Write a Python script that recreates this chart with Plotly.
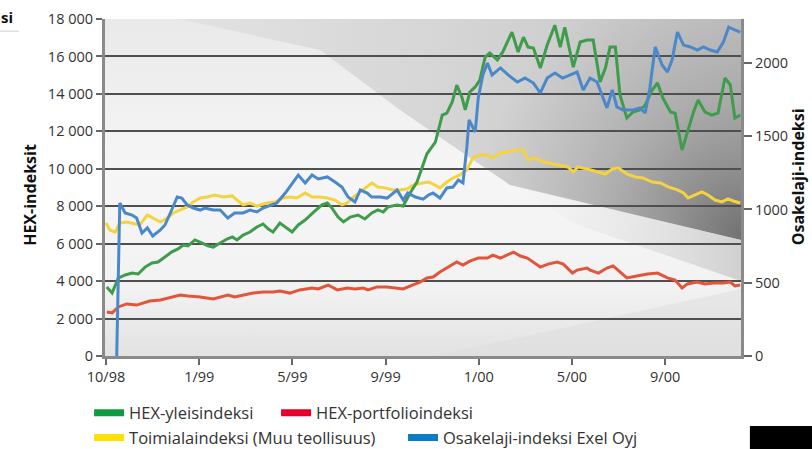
import base64
import plotly.graph_objects as go

# x positions are days from the first tick (ticks are evenly spaced in the source)
tick_days = [0, 121.7, 243.3, 365, 486.7, 608.3, 730]
tick_labels = ["10/98", "1/99", "5/99", "9/99", "1/00", "5/00", "9/00"]
left_ticks = [0, 2000, 4000, 6000, 8000, 10000, 12000, 14000, 16000, 18000]
right_ticks = [0, 500, 1000, 1500, 2000]

hex_yleis_x = [1,8,16,25,34,42,51,60,68,77,86,94,101,107,116,125,133,140,149,158,
               165,171,179,188,197,205,212,218,227,236,243,251,260,270,282,289,295,303,310,319,
               329,338,347,355,362,368,380,388,397,406,413,419,430,439,445,452,458,465,469,475,
               482,488,495,501,511,518,530,538,545,551,558,567,576,586,593,599,610,619,628,636,
               645,652,658,665,671,680,688,697,704,713,720,727,737,743,752,759,767,773,782,791,
               799,808,815,821,828]
hex_yleis = [3690,3370,4160,4330,4430,4380,4750,4970,5020,5290,5560,5720,5930,5880,6200,6040,5880,5820,6040,6250,
             6360,6200,6460,6620,6890,7050,6780,6620,7100,6840,6620,7000,7260,7640,8070,8170,7900,7420,7160,7420,
             7530,7320,7640,7800,7690,7960,8070,8010,8710,9290,10100,10800,11430,12870,12970,13570,14470,13780,13140,14100,
             14370,14740,15970,16180,15810,16240,17300,16240,17030,16500,16450,15380,16610,17670,16500,17560,15430,16770,16880,16880,
             14640,15380,16500,16500,13940,12710,13030,13140,13400,14210,14580,13780,13030,12970,11000,11960,13030,13670,13030,12870,
             12970,14850,14480,12710,12870]

hex_portf_x = [1,8,16,27,40,48,57,71,81,97,107,123,140,151,159,168,179,192,205,218,
               227,240,253,269,277,290,302,315,325,336,342,354,367,377,388,400,410,419,427,436,
               445,458,466,475,486,498,505,515,532,541,550,558,567,577,589,597,609,615,628,632,
               643,654,662,671,680,693,707,720,733,743,752,759,772,782,793,806,815,821,828]
hex_portf = [2350,2300,2620,2780,2720,2830,2940,2990,3100,3260,3200,3150,3050,3150,3260,3150,3260,3360,3420,3420,
             3470,3360,3530,3630,3580,3790,3530,3630,3580,3630,3530,3690,3690,3630,3580,3790,3950,4170,4220,4490,
             4700,5020,4860,5070,5230,5230,5390,5230,5550,5340,5230,5020,4750,4910,5020,4910,4430,4590,4700,4590,
             4430,4700,4810,4490,4170,4270,4380,4430,4170,4060,3630,3850,3950,3850,3900,3900,3950,3740,3790]

toimiala_x = [0,5,12,18,27,35,44,54,61,71,80,88,97,106,114,123,132,142,153,165,
              171,179,188,197,210,221,231,240,249,260,269,279,289,299,308,315,323,332,341,347,
              355,364,375,384,393,401,413,421,427,436,445,453,462,471,479,488,498,505,515,525,
              537,545,551,560,571,584,593,603,610,616,628,643,652,661,669,680,691,701,713,724,
              734,746,754,760,769,778,786,795,804,812,819,828]
toimiala = [7100,6730,6620,7100,7160,7100,7000,7530,7370,7160,7370,7640,7800,7960,8230,8440,8490,8600,8490,8550,
            8330,8070,8170,8010,8170,8230,8440,8490,8440,8710,8490,8490,8440,8330,8070,8170,8490,8760,9030,9240,
            9030,8980,8870,8870,8920,9130,9240,9290,9180,8980,9290,9510,9670,9940,10580,10740,10740,10580,10840,10900,
            11000,11000,10470,10580,10360,10260,10200,10100,9830,10100,9990,9830,9720,9990,10040,9720,9560,9510,9290,9240,
            9030,8870,8710,8440,8600,8760,8600,8330,8230,8390,8280,8170]

exel_x = [14,18,25,34,40,47,54,61,71,77,84,93,99,106,114,123,129,140,149,159,
          168,179,188,197,205,212,223,234,243,251,260,269,277,289,299,308,316,325,332,341,
          347,358,367,380,388,394,404,414,421,427,436,445,453,460,466,471,474,482,486,492,
          498,504,515,525,537,547,558,567,576,586,596,606,615,623,632,641,648,654,661,667,
          675,688,697,704,710,717,726,733,739,746,754,763,772,780,789,798,806,813,821,828]
exel = [0,1044,976,962,942,839,874,819,860,894,976,1085,1078,1031,1010,996,1010,996,996,942,
        976,976,996,983,1010,1024,1044,1112,1181,1235,1181,1235,1208,1222,1188,1153,1085,1051,1133,1112,
        1085,1085,1078,1133,1065,1112,1085,1071,1099,1112,1078,1147,1153,1201,1181,1420,1611,1529,1761,1918,
        2000,1918,1966,1918,1870,1897,1863,1795,1897,1931,1897,1918,1938,1816,1897,1870,1768,1693,1816,1700,
        1679,1679,1693,1659,1829,2109,1986,1938,2020,2211,2122,2109,2088,2109,2088,2075,2143,2245,2225,2211]

names = ["HEX-yleisindeksi", "HEX-portfolioindeksi",
         "Toimialaindeksi (Muu teollisuus)", "Osakelaji-indeksi Exel Oyj"]
line_colors = ["#3f9c4c", "#e2553a", "#f4d340", "#4b88c9"]
legend_colors = ["#0f9a3f", "#e4002b", "#ffe000", "#0a7cc6"]

FONT = "Open Sans"
fig = go.Figure()

fig.add_trace(go.Scatter(x=toimiala_x, y=toimiala, mode="lines", showlegend=False,
                         line=dict(color=line_colors[2], width=3), name=names[2]))
fig.add_trace(go.Scatter(x=hex_portf_x, y=hex_portf, mode="lines", showlegend=False,
                         line=dict(color=line_colors[1], width=3), name=names[1]))
fig.add_trace(go.Scatter(x=exel_x, y=exel, mode="lines", showlegend=False, yaxis="y2",
                         line=dict(color=line_colors[3], width=3), name=names[3]))
fig.add_trace(go.Scatter(x=hex_yleis_x, y=hex_yleis, mode="lines", showlegend=False,
                         line=dict(color=line_colors[0], width=3), name=names[0]))

# legend entries (thick swatches like the source), one legend box per entry
legend_ids = ["legend", "legend2", "legend3", "legend4"]
for nm, col, lg in zip(names, legend_colors, legend_ids):
    fig.add_trace(go.Scatter(x=[None], y=[None], mode="lines", name=nm,
                             line=dict(color=col, width=7), legend=lg))

# decorative gradient backdrop of the plot area (pure styling)
svg = """<svg xmlns="http://www.w3.org/2000/svg" width="636" height="337" viewBox="0 0 636 337">
<defs>
<linearGradient id="bg" x1="0" y1="0" x2="0" y2="1">
 <stop offset="0" stop-color="#e9e9e9"/><stop offset="0.45" stop-color="#f6f6f6"/>
 <stop offset="0.8" stop-color="#f2f2f2"/><stop offset="1" stop-color="#e2e2e2"/>
</linearGradient>
<linearGradient id="sheet" x1="0" y1="0" x2="1" y2="0">
 <stop offset="0" stop-color="#e2e2e2"/><stop offset="0.45" stop-color="#d6d6d6"/>
 <stop offset="1" stop-color="#c4c4c4"/>
</linearGradient>
<radialGradient id="dark" cx="636" cy="215" r="270" gradientUnits="userSpaceOnUse">
 <stop offset="0" stop-color="#646464" stop-opacity="0.85"/>
 <stop offset="0.5" stop-color="#787878" stop-opacity="0.35"/>
 <stop offset="1" stop-color="#8a8a8a" stop-opacity="0"/>
</radialGradient>
<linearGradient id="low" x1="0" y1="0" x2="1" y2="0">
 <stop offset="0" stop-color="#e6e6e6" stop-opacity="0"/>
 <stop offset="1" stop-color="#c8c8c8" stop-opacity="0.8"/>
</linearGradient>
</defs>
<rect width="636" height="337" fill="url(#bg)"/>
<path d="M75,0 L636,0 L636,221 L405,166 L295,91 L215,31 Z" fill="url(#sheet)"/>
<path d="M75,0 L636,0 L636,221 L405,166 L295,91 L215,31 Z" fill="url(#dark)"/>
<path d="M405,166 L636,221 L636,262 L470,205 Z" fill="url(#low)"/>
<path d="M330,337 L636,270 L636,337 Z" fill="#dcdcdc" fill-opacity="0.45"/>
</svg>"""
svg_uri = "data:image/svg+xml;base64," + base64.b64encode(svg.encode()).decode()

shapes = [
    dict(type="line", xref="paper", yref="paper", x0=-0.166, x1=-0.135, y0=0.964, y1=0.964,
         line=dict(color="#d0d0d0", width=1)),
    dict(type="rect", xref="paper", yref="paper", x0=1.014, x1=1.12, y0=-0.3, y1=-0.208,
         fillcolor="black", line=dict(width=0)),
]

annotations = [
    dict(text="<b>HEX-indeksit</b>", xref="paper", yref="paper", x=-0.118, y=0.478,
         xanchor="center", yanchor="middle",
         textangle=-90, showarrow=False, font=dict(family=FONT, size=16, color="#111")),
    dict(text="<b>Osakelaji-indeksi</b>", xref="paper", yref="paper", x=1.0895, y=0.533,
         xanchor="center", yanchor="middle",
         textangle=-90, showarrow=False, font=dict(family=FONT, size=16, color="#111")),
    dict(text="<b>si</b>", xref="paper", yref="paper", x=-0.166, y=1.005, xanchor="left",
         yanchor="middle", showarrow=False, font=dict(family=FONT, size=15, color="#111")),
]

legend_font = dict(family=FONT, size=16.5, color="#333")
def legend_box(x, y):
    return dict(orientation="h", x=x, y=y, xanchor="left", yanchor="middle",
                bgcolor="rgba(0,0,0,0)", font=legend_font)

tickfont = dict(family=FONT, size=14.5, color="#333")
fig.update_layout(
    width=812, height=449,
    margin=dict(l=105, r=71, t=19, b=93, autoexpand=False),
    paper_bgcolor="white", plot_bgcolor="#efefef",
    separators=". ",
    showlegend=True,
    shapes=shapes, annotations=annotations,
    images=[dict(source=svg_uri, xref="paper", yref="paper", x=0, y=1, sizex=1, sizey=1,
                 xanchor="left", yanchor="top", sizing="stretch", layer="below")],
    xaxis=dict(range=[-1.3, 829], tickvals=tick_days, ticktext=tick_labels,
               showgrid=False, zeroline=False, showline=True, linecolor="#8a8a8a", linewidth=3,
               ticks="outside", ticklen=6, tickwidth=2, tickcolor="#666", tickfont=tickfont),
    yaxis=dict(range=[0, 18000], tickvals=left_ticks, tickformat=",d",
               showgrid=True, gridcolor="#4f4f4f", gridwidth=2, zeroline=False,
               showline=True, linecolor="#8a8a8a", linewidth=3,
               ticks="outside", ticklen=6, tickwidth=2, tickcolor="#666", tickfont=tickfont),
    yaxis2=dict(range=[0, 2300], tickvals=right_ticks, tickformat="d", overlaying="y", side="right",
                showgrid=False, zeroline=False, showline=True, linecolor="#8a8a8a", linewidth=3,
                ticks="outside", ticklen=8, tickwidth=2, tickcolor="#666", tickfont=tickfont),
    legend=legend_box(-0.025, -0.169),
    legend2=legend_box(0.269, -0.169),
    legend3=legend_box(-0.025, -0.243),
    legend4=legend_box(0.4686, -0.243),
)

fig.write_html("out.html", config={"displayModeBar": False},
               post_script="document.body.style.margin='0';document.body.style.padding='0';")
